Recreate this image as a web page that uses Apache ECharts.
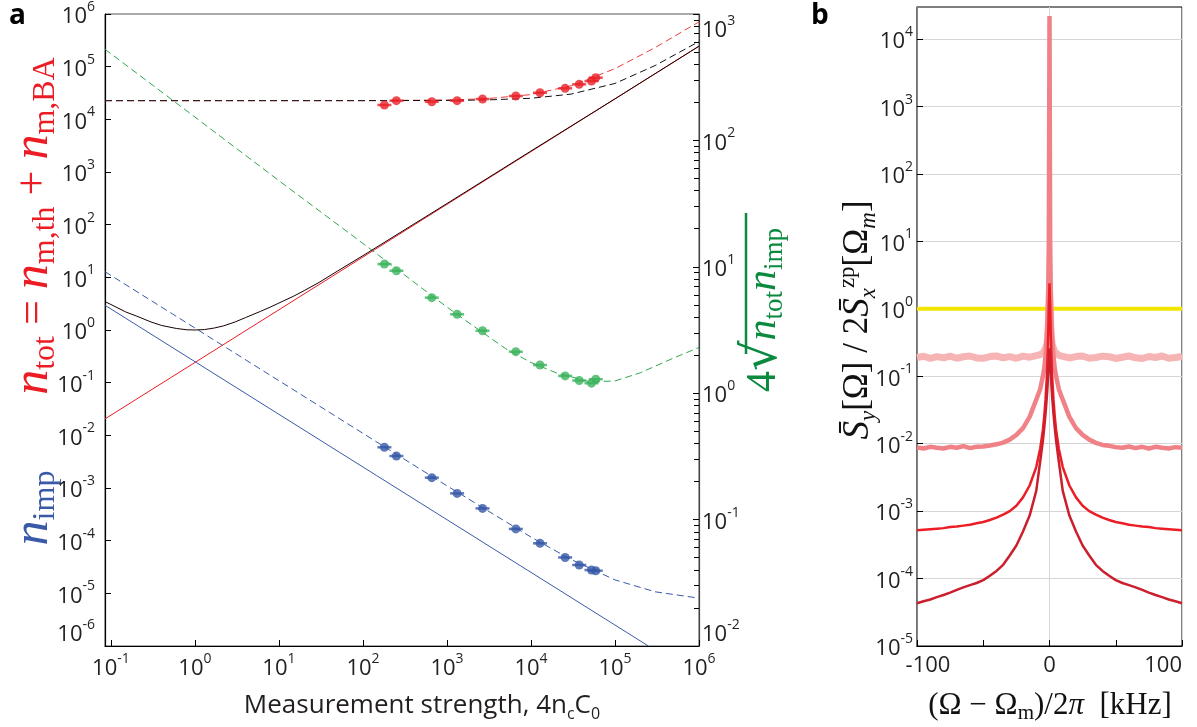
<!DOCTYPE html>
<html><head><meta charset="utf-8">
<script src="https://cdn.jsdelivr.net/npm/echarts@6/dist/echarts.min.js"></script>
<style>html,body{margin:0;padding:0;background:#fff}#c{width:1197px;height:727px}</style>
</head><body><div id="c"></div>
<script>
// ---------- Panel a data ----------
const aDecadesX = [0.1, 1, 10, 100, 1000, 1e4, 1e5, 1e6];
const aDecadesL = [1e-6,1e-5,1e-4,1e-3,1e-2,1e-1,1,10,100,1e3,1e4,1e5,1e6];
const aDecadesR = [0.01, 0.1, 1, 10, 100, 1000];
const aMinorR = [0.02,0.03,0.04,0.05,0.06,0.07,0.08,0.09,0.2,0.3,0.4,0.5,0.6,0.7,0.8,0.9,2,3,4,5,6,7,8,9,20,30,40,50,60,70,80,90,200,300,400,500,600,700,800,900];

const baX = [0.085, 1e6];            const baY = [0.0205, 2.45e5];       // red solid
const impX = [0.085, 2.5e5];          const impY = [2.95, 1e-6];          // blue solid
const totX = [0.085,0.1,0.15,0.2,0.3,0.4,0.6,0.8,1,1.3,1.7,2.2,3,4,6,8,10,15,20,30,50,100,1000,1e4,1e5,1e6];
const totY = [3.45,3.05,2.2,1.85,1.42,1.22,1.07,1.01,1.0,1.02,1.09,1.2,1.42,1.72,2.25,2.75,3.25,4.4,5.6,8.0,13.2,25.8,252,2500,24500,2.45e5];   // black solid
const impMX = [0.085,1,10,100,1000,1e4,3e4,1e5,3e5,1e6];
const impMY = [12.8,1.09,0.109,0.0109,1.1e-3,1.17e-4,4.4e-5,1.8e-5,1.07e-5,8.1e-6];        // blue dashed
const totMX = [0.085,100,1000,3000,1e4,3e4,1e5,3e5,1e6];
const totMY = [22600,22650,23300,24700,29500,43300,91600,2.3e5,7.1e5];                   // red dashed
const totTX = [0.085,100,1000,3000,1e4,3e4,1e5,3e5,1e6];
const totTY = [22600,22620,22850,23350,25100,30100,48000,1.05e5,3.0e5];                  // black dashed
const prodX = [0.085,1,10,100,200,500,1000,2000,5000,1e4,2e4,5e4,1e5,2e5,5e5,1e6];
const prodY = [526,153,48,15.3,10.8,6.8,4.8,3.45,2.25,1.75,1.45,1.23,1.25,1.45,1.9,2.3];  // green dashed (right axis)

const ptX = [180,250,660,1320,2650,6600,12800,25500,37500,52500,59000];
const ptTot = [18700,22600,21600,22600,24300,27700,32000,38800,46200,53400,61700];
const ptImp = [5.93e-3,4.05e-3,1.57e-3,7.9e-4,4.1e-4,1.67e-4,8.9e-5,4.8e-5,3.45e-5,2.77e-5,2.69e-5];
const ptProd = [10.5,9.31,5.70,4.21,3.12,2.13,1.67,1.37,1.26,1.20,1.29];

// ---------- Panel b data ----------
const bDecades = [1e-5,1e-4,1e-3,1e-2,1e-1,1,10,100,1e3,1e4];
const bX = [-100,-95,-90,-85,-80,-75,-70,-65,-60,-55,-50,-45,-40,-35,-30,-25,-20,-15,-10,-7,-5,-4,-3,-2,-1.5,-1,-0.5,0,0.5,1,1.5,2,3,4,5,7,10,15,20,25,30,35,40,45,50,55,60,65,70,75,80,85,90,95,100];
const specA = [0.19,0.198,0.184,0.196,0.188,0.199,0.185,0.195,0.2,0.187,0.185,0.196,0.2,0.188,0.196,0.185,0.199,0.192,0.203,0.21,0.22,0.23,0.26,0.3,0.36,0.5,0.9,2.0,0.9,0.5,0.36,0.3,0.26,0.23,0.215,0.205,0.198,0.187,0.196,0.2,0.185,0.19,0.199,0.195,0.184,0.192,0.2,0.188,0.184,0.196,0.19,0.2,0.185,0.19,0.196];
const specB = [0.0088,0.0085,0.009,0.0087,0.0085,0.009,0.0087,0.0092,0.0086,0.009,0.0091,0.0094,0.0098,0.0104,0.0115,0.0135,0.017,0.025,0.045,0.065,0.1,0.13,0.2,0.4,0.7,1.6,10,22000,10,1.6,0.7,0.4,0.2,0.13,0.1,0.065,0.045,0.025,0.017,0.0135,0.0115,0.0103,0.0096,0.0093,0.0089,0.0087,0.0091,0.0086,0.009,0.0085,0.009,0.0087,0.0085,0.0089,0.0087];
const specC = [5.2e-4,5.3e-4,5.4e-4,5.5e-4,5.6e-4,5.8e-4,5.9e-4,6.1e-4,6.3e-4,6.6e-4,6.9e-4,7.4e-4,8.0e-4,8.9e-4,1.0e-3,1.2e-3,1.6e-3,2.4e-3,4.5e-3,8.5e-3,0.016,0.025,0.045,0.1,0.18,0.4,1.1,2.4,1.1,0.4,0.18,0.1,0.045,0.025,0.016,8.5e-3,4.5e-3,2.4e-3,1.6e-3,1.2e-3,1.0e-3,8.9e-4,8.0e-4,7.4e-4,6.9e-4,6.6e-4,6.3e-4,6.1e-4,5.9e-4,5.8e-4,5.6e-4,5.5e-4,5.4e-4,5.3e-4,5.2e-4];
const specD = [4.3e-5,4.6e-5,4.9e-5,5.3e-5,5.7e-5,6.2e-5,6.8e-5,7.4e-5,8.0e-5,8.6e-5,9.5e-5,1.1e-4,1.3e-4,1.6e-4,2.2e-4,3.1e-4,5.0e-4,8.6e-4,2.0e-3,5.5e-3,0.011,0.017,0.028,0.05,0.07,0.11,0.18,0.26,0.18,0.11,0.07,0.05,0.028,0.017,0.011,5.5e-3,2.0e-3,8.6e-4,5.0e-4,3.1e-4,2.2e-4,1.6e-4,1.3e-4,1.1e-4,9.5e-5,8.6e-5,8.0e-5,7.4e-5,6.8e-5,6.2e-5,5.7e-5,5.3e-5,4.9e-5,4.6e-5,4.3e-5];
const unitX = [-100, 100];  const unitY = [1, 1];

// ---------- helpers ----------
const zip = (xs, ys) => xs.map((x, i) => [x, ys[i]]);
const TICKC = '#231f20';
const richTick = {
  b: {fontSize: 22, fontFamily: 'Open Sans', color: TICKC, lineHeight: 28, verticalAlign: 'bottom'},
  s: {fontSize: 14, fontFamily: 'Open Sans', color: TICKC, lineHeight: 14, verticalAlign: 'top'},
  m: {fontSize: 22, fontFamily: 'Open Sans', color: TICKC, padding: [0, 0, 0, 22]},
  p: {fontSize: 22, fontFamily: 'Open Sans', color: TICKC}
};
const powFmt = v => '{b|10}{s|' + Math.round(Math.log10(v)) + '}';

function line(xs, ys, color, opts) {
  opts = opts || {};
  return {type: 'line', data: zip(xs, ys), xAxisIndex: opts.xi || 0, yAxisIndex: opts.yi || 0,
    symbol: 'none', showSymbol: false, silent: true, clip: true, z: opts.z || 2,
    lineStyle: {color: color, width: opts.w || 1, type: opts.dash ? [7, 4] : 'solid'}};
}
function pts(xs, ys, color, yi) {
  return [
    {type: 'scatter', data: zip(xs, ys), xAxisIndex: 0, yAxisIndex: yi, symbol: 'rect', symbolSize: [14, 2.5], itemStyle: {color: color}, silent: true, z: 5},
    {type: 'scatter', data: zip(xs, ys), xAxisIndex: 0, yAxisIndex: yi, symbol: 'circle', symbolSize: 9, itemStyle: {color: color}, silent: true, z: 6}
  ];
}

const RED = '#ec1c24', BLUE = '#3a5aa8', GREEN = '#2fa64e', GREENT = '#0b8a3f';

const option = {
  animation: false,
  backgroundColor: '#fff',
  grid: [
    {left: 105, top: 14, width: 594, height: 632, show: true, borderColor: '#555', borderWidth: 1, backgroundColor: 'transparent', outerBoundsMode: 'none'},
    {left: 917, top: 7, width: 265, height: 639, show: true, borderColor: '#000', borderWidth: 1, backgroundColor: 'transparent', outerBoundsMode: 'none'}
  ],
  xAxis: [
    {type: 'log', gridIndex: 0, min: 0.085, max: 1e6,
      axisLine: {show: true, onZero: false, lineStyle: {color: '#000', width: 1.2}},
      axisTick: {show: true, inside: true, length: 6, customValues: aDecadesX, lineStyle: {color: '#000'}},
      axisLabel: {customValues: aDecadesX, formatter: powFmt, rich: richTick, margin: 6},
      splitLine: {show: false}, minorTick: {show: false}},
    {type: 'value', gridIndex: 1, min: -100, max: 100, interval: 50,
      axisLine: {show: true, onZero: false, lineStyle: {color: '#000', width: 1.2}},
      axisTick: {show: true, inside: true, length: 6, lineStyle: {color: '#000'}},
      axisLabel: {formatter: v => (v === -100 ? '{m|-100}' : v === 0 ? '{p|0}' : v === 100 ? '{p|100}' : ''), rich: richTick, margin: 9, alignMaxLabel: 'right'},
      splitLine: {show: false}},
    {type: 'value', gridIndex: 1, min: -100, max: 100, interval: 100,
      axisLine: {show: false, onZero: false}, axisTick: {show: false}, axisLabel: {show: false},
      splitLine: {show: true, lineStyle: {color: '#d6d6d6', width: 1}}}
  ],
  yAxis: [
    {type: 'log', gridIndex: 0, position: 'left', min: 1e-6, max: 1e6,
      axisLine: {show: true, onZero: false, lineStyle: {color: '#000', width: 1.2}},
      axisTick: {show: true, inside: true, length: 6, customValues: aDecadesL, lineStyle: {color: '#000'}},
      axisLabel: {customValues: aDecadesL, formatter: powFmt, rich: richTick, margin: 10, verticalAlignMinLabel: 'bottom'},
      splitLine: {show: false}},
    {type: 'log', gridIndex: 0, position: 'right', min: 0.01, max: 1000,
      axisLine: {show: true, onZero: false, lineStyle: {color: '#444', width: 1.2}},
      axisTick: {show: true, inside: true, length: 6, customValues: aDecadesR, lineStyle: {color: '#000'}},
      axisLabel: {customValues: aDecadesR, formatter: powFmt, rich: richTick, margin: 3, verticalAlignMinLabel: 'bottom', verticalAlignMaxLabel: 'top'},
      splitLine: {show: false}},
    {type: 'log', gridIndex: 0, position: 'right', min: 0.01, max: 1000,
      axisLine: {show: false, onZero: false},
      axisTick: {show: true, inside: true, length: 5, customValues: aMinorR, lineStyle: {color: '#000'}},
      axisLabel: {show: false}, splitLine: {show: false}},
    {type: 'log', gridIndex: 1, position: 'left', min: 1e-5, max: 3e4,
      axisLine: {show: true, onZero: false, lineStyle: {color: '#6d6e71', width: 1.6}},
      axisTick: {show: true, inside: true, length: 6, customValues: bDecades, lineStyle: {color: '#000'}},
      axisLabel: {customValues: bDecades, formatter: powFmt, rich: richTick, margin: 4},
      splitLine: {show: true, lineStyle: {color: '#d6d6d6', width: 1}}}
  ],
  series: [
    line(baX, baY, RED),
    line(impX, impY, BLUE),
    line(prodX, prodY, GREEN, {yi: 1, dash: true}),
    line(impMX, impMY, BLUE, {dash: true}),
    line(totMX, totMY, '#ee3b3b', {dash: true}),
    line(totTX, totTY, '#111', {dash: true}),
    line(totX, totY, '#1a0000', {z: 3}),
    ...pts(ptX, ptTot, '#ea2128', 0),
    ...pts(ptX, ptImp, '#3558a6', 0),
    ...pts(ptX, ptProd, '#3cb35d', 1),
    line(unitX, unitY, '#f3e500', {xi: 1, yi: 3, w: 4}),
    line(bX, specA, '#f7b4b4', {xi: 1, yi: 3, w: 7}),
    line(bX, specB, '#f08187', {xi: 1, yi: 3, w: 4.5}),
    line(bX, specC, '#ec1d25', {xi: 1, yi: 3, w: 2.5}),
    line(bX, specD, '#cc1f2d', {xi: 1, yi: 3, w: 2.5})
  ],
  graphic: [
    {type: 'text', x: 9, y: 2, style: {text: 'a', font: 'bold 28px "Open Sans"', fill: '#000'}},
    {type: 'text', x: 811, y: 2, style: {text: 'b', font: 'bold 28px "Open Sans"', fill: '#000'}},
    {type: 'text', x: 34, y: 226, rotation: Math.PI / 2,
      style: {text: '{n|n}{s|tot}{o| = }{n|n}{s|m,th}{o| + }{n|n}{s|m,BA}', align: 'center', verticalAlign: 'middle',
        rich: {
          n: {fontFamily: 'Liberation Serif', fontStyle: 'italic', fontSize: 50, lineHeight: 56, verticalAlign: 'middle', fill: RED},
          s: {fontFamily: 'Liberation Serif', fontSize: 32, lineHeight: 30, verticalAlign: 'bottom', fill: RED},
          o: {fontFamily: 'Liberation Serif', fontSize: 44, lineHeight: 56, verticalAlign: 'middle', fill: RED}}}},
    {type: 'text', x: 34, y: 508, rotation: Math.PI / 2,
      style: {text: '{n|n}{s|imp}', align: 'center', verticalAlign: 'middle',
        rich: {
          n: {fontFamily: 'Liberation Serif', fontStyle: 'italic', fontSize: 50, lineHeight: 56, verticalAlign: 'middle', fill: BLUE},
          s: {fontFamily: 'Liberation Serif', fontSize: 32, lineHeight: 30, verticalAlign: 'bottom', fill: BLUE}}}},
    {type: 'text', x: 764, y: 310, rotation: Math.PI / 2,
      style: {text: '{n|4}{r|√}{m|n}{s|tot}{m|n}{s|imp}', align: 'center', verticalAlign: 'middle',
        rich: {
          n: {fontFamily: 'Liberation Serif', fontSize: 42, lineHeight: 48, verticalAlign: 'middle', fill: GREENT},
          r: {fontFamily: 'DejaVu Serif', fontSize: 48, lineHeight: 48, verticalAlign: 'middle', fill: GREENT},
          m: {fontFamily: 'Liberation Serif', fontStyle: 'italic', fontSize: 42, lineHeight: 48, verticalAlign: 'middle', fill: GREENT},
          s: {fontFamily: 'Liberation Serif', fontSize: 27, lineHeight: 24, verticalAlign: 'bottom', fill: GREENT}}}},
    {type: 'line', shape: {x1: 746, y1: 213, x2: 746, y2: 354}, style: {stroke: GREENT, lineWidth: 2.5}},
    {type: 'text', x: 422, y: 706,
      style: {text: '{t|Measurement strength, 4n}{u|c}{t|C}{u|0}', align: 'center', verticalAlign: 'middle',
        rich: {
          t: {fontFamily: 'Open Sans', fontSize: 26, lineHeight: 32, verticalAlign: 'middle', fill: TICKC},
          u: {fontFamily: 'Open Sans', fontSize: 16, lineHeight: 17, verticalAlign: 'bottom', fill: TICKC}}}},
    {type: 'text', x: 858, y: 320, rotation: Math.PI / 2,
      style: {text: '{m|S̄}{s|y}{t|[Ω] / 2}{m|S̄}{s|x}{p|zp}{t|[Ω}{s|m}{t|]}', align: 'center', verticalAlign: 'middle',
        rich: {
          m: {fontFamily: 'Liberation Serif', fontStyle: 'italic', fontSize: 37, lineHeight: 44, verticalAlign: 'middle', fill: '#111'},
          t: {fontFamily: 'Liberation Serif', fontSize: 35, lineHeight: 44, verticalAlign: 'middle', fill: '#111'},
          s: {fontFamily: 'Liberation Serif', fontStyle: 'italic', fontSize: 23, lineHeight: 22, verticalAlign: 'bottom', fill: '#111'},
          p: {fontFamily: 'Liberation Serif', fontSize: 23, lineHeight: 22, verticalAlign: 'top', fill: '#111'}}}},
    {type: 'text', x: 1050, y: 706,
      style: {text: '{t|(Ω − Ω}{s|m}{t|)/2}{i|π}{t|  [kHz]}', align: 'center', verticalAlign: 'middle',
        rich: {
          t: {fontFamily: 'Liberation Serif', fontSize: 31, lineHeight: 36, verticalAlign: 'middle', fill: '#111'},
          i: {fontFamily: 'Liberation Serif', fontStyle: 'italic', fontSize: 31, lineHeight: 36, verticalAlign: 'middle', fill: '#111'},
          s: {fontFamily: 'Liberation Serif', fontSize: 21, lineHeight: 19, verticalAlign: 'bottom', fill: '#111'}}}}
  ]
};

const chart = echarts.init(document.getElementById('c'), null, {renderer: 'canvas'});
chart.setOption(option);
</script></body></html>
